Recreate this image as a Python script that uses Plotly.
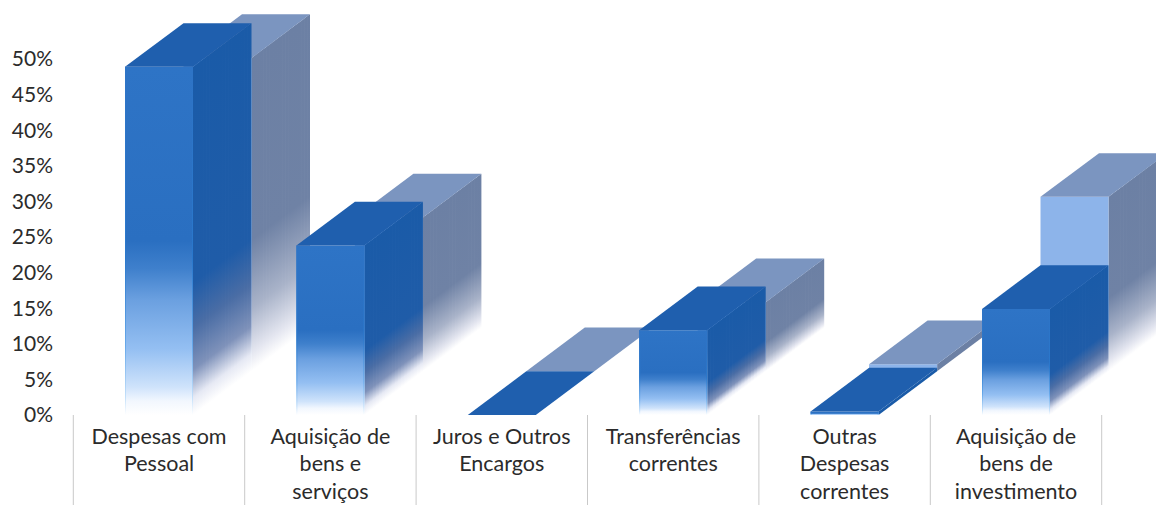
import plotly.graph_objects as go

categories = ["Despesas com<br>Pessoal", "Aquisição de<br>bens e<br>serviços", "Juros e Outros<br>Encargos",
              "Transferências<br>correntes", "Outras<br>Despesas<br>correntes", "Aquisição de<br>bens de<br>investimento"]
front_values = [48.9, 23.8, 0, 11.9, 0.5, 14.9]
back_values = [44.0, 21.6, 0, 9.7, 1.0, 24.5]
y_ticks = [0, 5, 10, 15, 20, 25, 30, 35, 40, 45, 50]

PX_X = 171.4
PX_Y = 7.12
HALF = 34 / PX_X
DX = 58.5 / PX_X
DY = 43.7 / PX_Y
EDGE = 1.0 / PX_X
STRIPS = 40

FRONT_SCALE = [[0, "#ffffff"], [0.04, "#f2f7fe"], [0.08, "#cfe3fb"], [0.19, "#94bff2"], [0.33, "#6ba0e0"],
               [0.42, "#3f80cc"], [0.5, "#2a6fc1"], [1, "#2e74c6"]]
EDGE_SCALE = [[0, "#ffffff"], [0.05, "#c4e0fa"], [0.2, "#66a8ea"], [0.45, "#2a78cc"], [1, "#2e74c6"]]
SIDE_SCALE = [[0, "#ffffff"], [0.05, "#e6e9f4"], [0.13, "#7f92ba"], [0.25, "#4a6da5"], [0.38, "#1f5ca8"],
              [1, "#1a5ba8"]]
BACK_FRONT_SCALE = [[0, "#ffffff"], [0.3, "#8db4ea"], [1, "#8db4ea"]]
BACK_SIDE_SCALE = [[0, "#ffffff"], [0.06, "#e4e6f0"], [0.2, "#a9b3c9"], [0.42, "#6f82a5"], [1, "#6c80a4"]]
TOP_FRONT = "#1f5fae"
TOP_BACK = "#7b95c0"

fig = go.Figure()


def poly(xs, ys, base=None, top=None, scale=None, color=None):
    kw = dict(x=xs + xs[:1], y=ys + ys[:1], mode="lines", line=dict(width=0), fill="toself",
              hoverinfo="skip", showlegend=False)
    if scale is not None:
        kw["fillgradient"] = dict(type="vertical", start=base, stop=top, colorscale=scale)
    else:
        kw["fillcolor"] = color
    fig.add_trace(go.Scatter(**kw))


def draw_bar(i, value, ox, oy, front_scale, side_scale, top_color, edge_scale=None):
    x0, x1 = i - HALF + ox, i + HALF + ox
    base, top = oy, oy + value
    if value > 2:
        for j in range(STRIPS):
            t0 = j / STRIPS
            t1 = min(1, (j + 1.5) / STRIPS)
            tm = (j + 0.5) / STRIPS
            poly([x1 + t0 * DX, x1 + t1 * DX, x1 + t1 * DX, x1 + t0 * DX],
                 [base + t0 * DY, base + t1 * DY, top + t1 * DY, top + t0 * DY],
                 base + tm * DY, top + tm * DY, side_scale)
    elif value > 0:
        poly([x1, x1 + DX, x1 + DX, x1], [base, base + DY, top + DY, top], color=side_scale[-1][1])
    if value > 0:
        poly([x0, x1, x1, x0], [base, base, top, top], base, top, front_scale)
        if edge_scale is not None:
            for e in (x0, x1 - EDGE):
                poly([e, e + EDGE, e + EDGE, e], [base, base, top, top], base, top, edge_scale)
    poly([x0, x1, x1 + DX, x0 + DX], [top, top, top + DY, top + DY], color=top_color)


for i, v in enumerate(back_values):
    draw_bar(i, v, DX, DY, BACK_FRONT_SCALE, BACK_SIDE_SCALE, TOP_BACK)
for i, v in enumerate(front_values):
    draw_bar(i, v, 0, 0, FRONT_SCALE, SIDE_SCALE, TOP_FRONT, EDGE_SCALE)

for k in range(len(categories) + 1):
    fig.add_shape(type="line", xref="x", yref="paper", x0=k - 0.5, x1=k - 0.5, y0=0, y1=-90 / 415,
                  line=dict(color="#c9c9c9", width=1))

fig.update_layout(
    width=1156, height=505, margin=dict(l=60, r=0, t=0, b=90), showlegend=False,
    paper_bgcolor="white", plot_bgcolor="white",
    font=dict(family="Lato, Carlito, sans-serif", size=21, color="#2b2b2b"),
    xaxis=dict(range=[(60 - 159) / PX_X, (1156 - 159) / PX_X], tickmode="array",
               tickvals=list(range(len(categories))), ticktext=categories, showgrid=False, zeroline=False,
               showline=False, ticks="", ticklabelstandoff=6, tickangle=0, tickfont=dict(size=21.5)),
    yaxis=dict(range=[0, 415 / PX_Y], tickmode="array", tickvals=y_ticks, ticktext=[f"{t}%" for t in y_ticks],
               showgrid=False, zeroline=False, showline=False, ticks="", ticklabelstandoff=6),
)

fig.write_html("out.html", config={"displayModeBar": False}, post_script="document.body.style.margin='0';")
